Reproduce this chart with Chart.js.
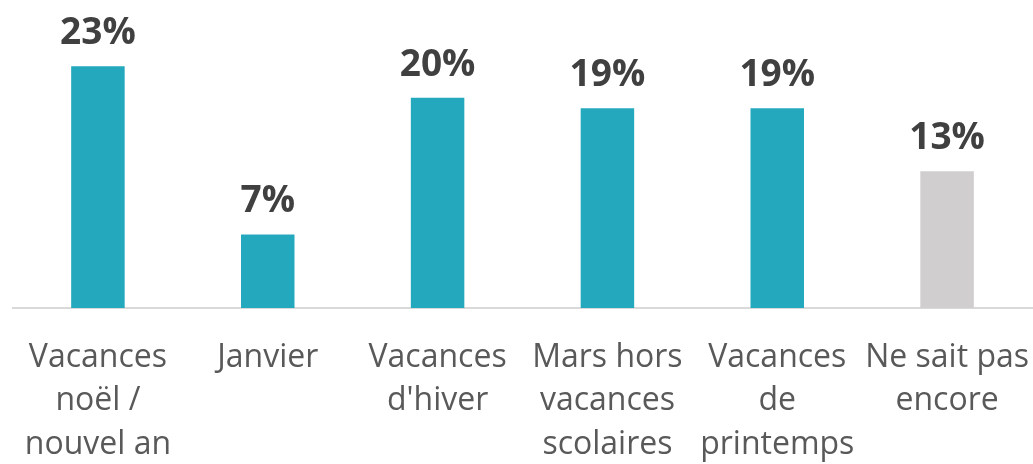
<!DOCTYPE html>
<html>
<head>
<meta charset="utf-8">
<script src="https://cdn.jsdelivr.net/npm/chart.js@4.4.0/dist/chart.umd.min.js"></script>
<style>
  html, body { margin: 0; padding: 0; background: #fff; }
  #wrap { width: 1033px; height: 464px; }
</style>
</head>
<body>
<div id="wrap"><canvas id="barChart" width="1033" height="464"></canvas></div>
<script>
// Données
var categories = [
    ['Vacances', 'noël /', 'nouvel an'],
    'Janvier',
    ['Vacances', "d'hiver"],
    ['Mars hors', 'vacances', 'scolaires'],
    ['Vacances', 'de', 'printemps'],
    ['Ne sait pas', 'encore']
];
var values = [23, 7, 20, 19, 19, 13];
var barColors = ['#24A8BD', '#24A8BD', '#24A8BD', '#24A8BD', '#24A8BD', '#D0CECF'];

// Étiquettes de valeur au-dessus des barres
var valueLabels = {
    id: 'valueLabels',
    afterDatasetsDraw: function(chart) {
        var ctx = chart.ctx;
        var meta = chart.getDatasetMeta(0);
        ctx.save();
        ctx.font = 'bold 37px "Open Sans"';
        ctx.fillStyle = '#404040';
        ctx.textAlign = 'center';
        ctx.textBaseline = 'alphabetic';
        meta.data.forEach(function(bar, i) {
            ctx.fillText(values[i] + '%', bar.x, bar.y - 22);
        });
        ctx.restore();
    }
};

var ctx = document.getElementById('barChart').getContext('2d');
var myChart = new Chart(ctx, {
    type: 'bar',
    data: {
        labels: categories,
        datasets: [{
            data: values,
            backgroundColor: barColors,
            borderWidth: 0,
            categoryPercentage: 1,
            barPercentage: 0.315
        }]
    },
    options: {
        responsive: false,
        animation: false,
        layout: { padding: { left: 13, right: 1, top: 0, bottom: 0 } },
        plugins: {
            legend: { display: false },
            tooltip: { enabled: false }
        },
        scales: {
            x: {
                grid: { display: false },
                border: { display: true, color: '#D9D9D9', width: 2 },
                ticks: {
                    color: '#595959',
                    font: { family: '"Open Sans"', size: 32, lineHeight: 1.36 },
                    padding: 20,
                    maxRotation: 0,
                    autoSkip: false
                },
                afterFit: function(scale) {
                    scale.height = 156;
                    scale.paddingLeft = 0;
                    scale.paddingRight = 0;
                }
            },
            y: {
                display: false,
                min: 0,
                max: 29.3
            }
        }
    },
    plugins: [valueLabels]
});
</script>
</body>
</html>
